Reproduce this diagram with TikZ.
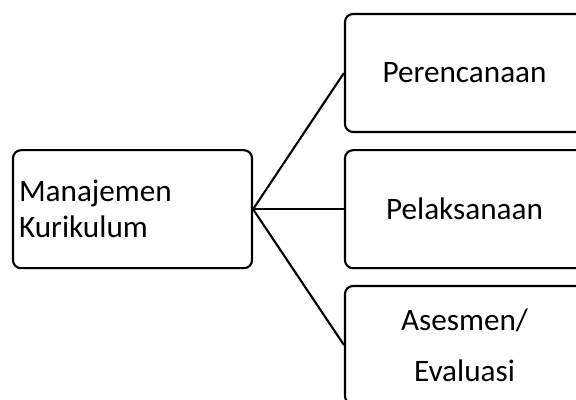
\documentclass[tikz,border=0pt]{standalone}
\usepackage{fontspec}
\setmainfont{Carlito}
\usepackage{tikz}

\begin{document}
\begin{tikzpicture}[line width=1.5pt,
		box/.style={draw, rounded corners=0.2cm, minimum width=5.975cm, minimum height=2.95cm,
			inner xsep=0.15cm, font=\fontsize{22.2}{25.5}\selectfont},
		leftbox/.style={box, text width=5.675cm, align=left},
		rightbox/.style={box, align=center}]
				% frame
				\useasboundingbox (0,0) rectangle (14.4,10);
				% main box
				\node[leftbox] (mk) at (3.3125,4.77) {Manajemen\\Kurikulum};
				% stages
				\node[rightbox] (plan) at (11.6125,8.175) {Perencanaan};
				\node[rightbox] (exec) at (11.6125,4.77) {Pelaksanaan};
				\node[rightbox, font=\fontsize{22.2}{36.5}\selectfont] (eval) at (11.6125,1.375) {Asesmen/\\Evaluasi};
				% connectors
				\draw (mk.east) -- (plan.west);
				\draw (mk.east) -- (exec.west);
				\draw (mk.east) -- (eval.west);
			\end{tikzpicture}
\end{document}
